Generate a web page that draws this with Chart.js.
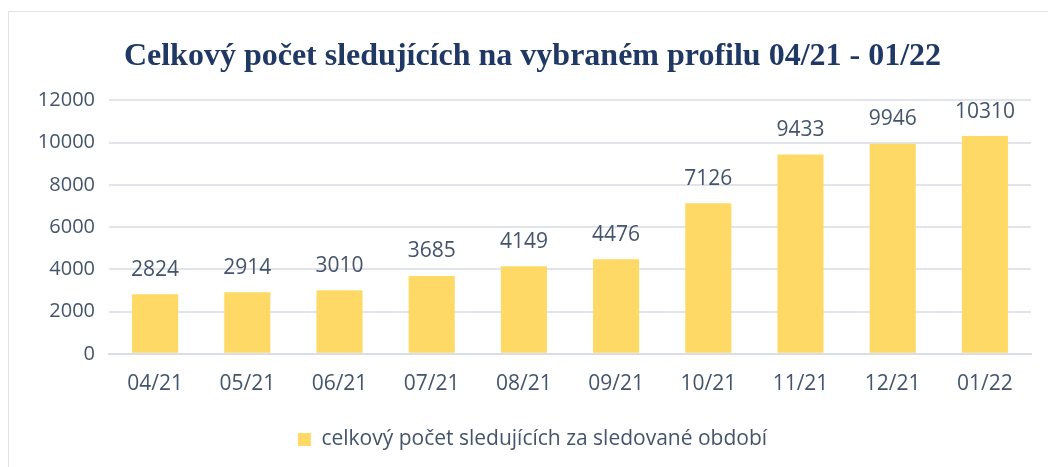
<!DOCTYPE html>
<html>
<head>
<meta charset="utf-8">
<script src="https://cdn.jsdelivr.net/npm/chart.js@4"></script>
<style>
  html, body { margin: 0; padding: 0; background: #fff; }
  #wrap { position: relative; width: 1048px; height: 467px; overflow: hidden; }
  #frame { position: absolute; left: 8px; top: 11px; width: 1100px; height: 500px;
           border: 1px solid #dfe3ea; box-sizing: border-box; }
  canvas { position: absolute; left: 0; top: 0; }
</style>
</head>
<body>
<div id="wrap">
  <div id="frame"></div>
  <canvas id="c" width="1048" height="467"></canvas>
</div>
<script>
// Celkový počet sledujících — sloupcový graf
const months    = ['04/21', '05/21', '06/21', '07/21', '08/21', '09/21', '10/21', '11/21', '12/21', '01/22'];
const followers = [2824, 2914, 3010, 3685, 4149, 4476, 7126, 9433, 9946, 10310];
const yTicks    = [0, 2000, 4000, 6000, 8000, 10000, 12000];

const TEXT = '#44546a';
const FONT = "'Open Sans', 'Noto Sans', sans-serif";

// popisky hodnot nad sloupci
const valueLabels = {
  id: 'valueLabels',
  afterDatasetsDraw(chart) {
    const ctx = chart.ctx;
    const meta = chart.getDatasetMeta(0);
    ctx.save();
    ctx.font = `21px ${FONT}`;
    ctx.fillStyle = TEXT;
    ctx.textAlign = 'center';
    ctx.textBaseline = 'bottom';
    meta.data.forEach((bar, i) => {
      ctx.fillText(String(chart.data.datasets[0].data[i]), bar.x, bar.y - 14);
    });
    ctx.restore();
  },
};

new Chart(document.getElementById('c'), {
  type: 'bar',
  data: {
    labels: months,
    datasets: [{
      label: 'celkový počet sledujících za sledované období',
      data: followers,
      backgroundColor: '#ffd966',
      borderWidth: 0,
      barPercentage: 0.5,
      categoryPercentage: 1.0,
    }],
  },
  options: {
    responsive: false,
    animation: false,
    layout: { padding: { left: 34, right: 17, top: 0, bottom: 7 } },
    plugins: {
      title: {
        display: true,
        text: 'Celkový počet sledujících na vybraném profilu 04/21 - 01/22',
        color: '#1f3864',
        font: { family: "'Liberation Serif', 'Times New Roman', serif", size: 32, weight: 'bold' },
        padding: { top: 38, bottom: 24 },
      },
      legend: {
        display: true,
        position: 'bottom',
        labels: {
          color: TEXT,
          font: { family: FONT, size: 21 },
          boxWidth: 13,
          boxHeight: 13,
          padding: 14,
        },
      },
      tooltip: { enabled: false },
    },
    scales: {
      x: {
        grid: { display: false, drawTicks: false },
        border: { display: true, color: '#d9dde5', width: 2 },
        ticks: { color: TEXT, font: { family: FONT, size: 21 }, padding: 18 },
      },
      y: {
        min: 0,
        max: 12000,
        afterBuildTicks: axis => { axis.ticks = yTicks.map(v => ({ value: v })); },
        afterFit: axis => { axis.width = 75; },
        grid: { color: '#e1e4ea', lineWidth: 2, drawTicks: false },
        border: { display: false },
        ticks: {
          color: TEXT,
          font: { family: FONT, size: 20 },
          padding: 14,
          callback: v => String(v),
        },
      },
    },
  },
  plugins: [valueLabels],
});
</script>
</body>
</html>
